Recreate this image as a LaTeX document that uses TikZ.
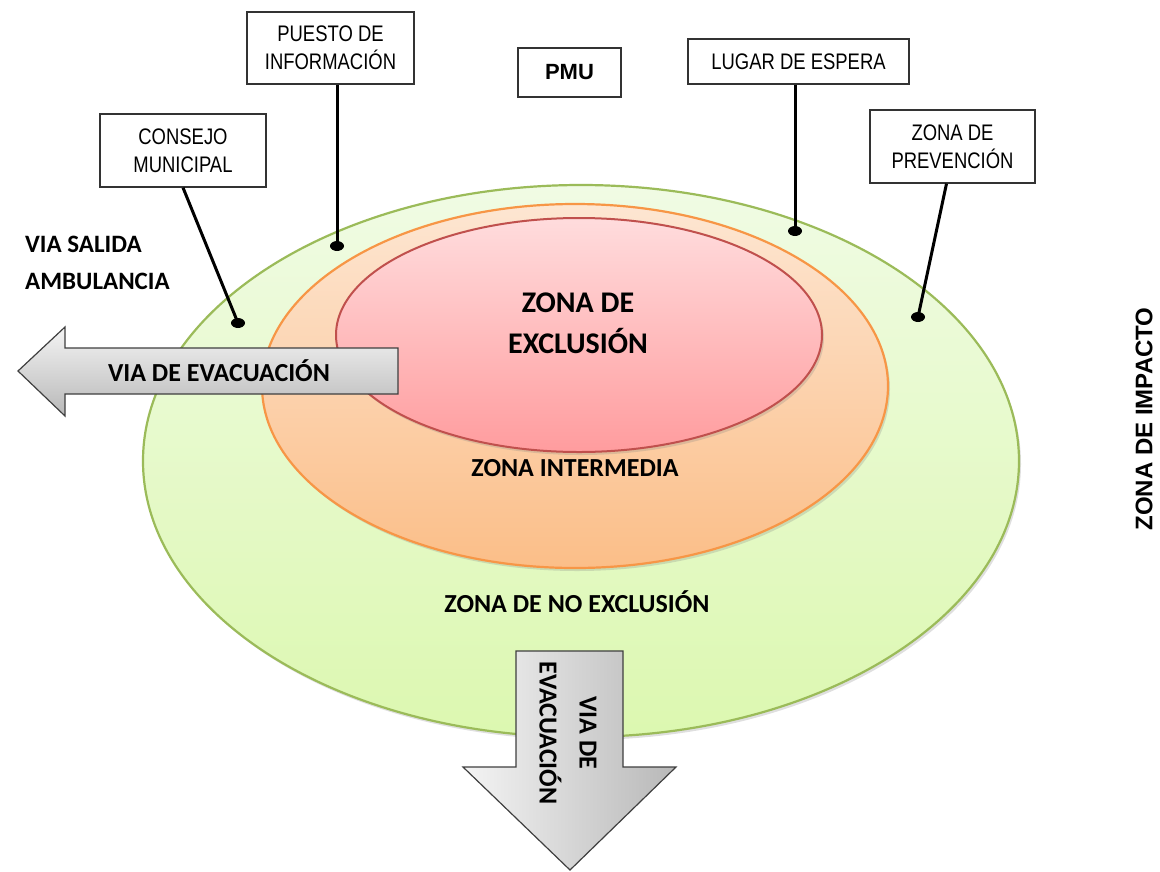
\documentclass[tikz,border=0pt]{standalone}
\usepackage{fontspec}
\usetikzlibrary{shapes.geometric,shadows}
\newfontfamily\carlito{Carlito}
\newfontfamily\arialf{Liberation Sans}
\newfontfamily\narrowf[FakeStretch=0.82]{Liberation Sans}
\definecolor{gborder}{HTML}{9BBB59}
\definecolor{gtop}{HTML}{F0FBE4}
\definecolor{gbot}{HTML}{DCF8B0}
\definecolor{oborder}{HTML}{F79646}
\definecolor{otop}{HTML}{FDE6D2}
\definecolor{obot}{HTML}{FBBE88}
\definecolor{rborder}{HTML}{C0504D}
\definecolor{rtop}{HTML}{FFDCDD}
\definecolor{rbot}{HTML}{FF9C9E}
\definecolor{arrtop}{HTML}{F4F4F4}
\definecolor{arrbot}{HTML}{B8B8B8}
\definecolor{arrborder}{HTML}{3F3F3F}
\tikzset{
  labelbox/.style={draw=black!80, line width=1.3pt, fill=white, inner sep=0pt, align=center,
     font=\narrowf\fontsize{22.5}{28}\selectfont},
  zonetext/.style={font=\carlito\bfseries\fontsize{26}{37}\selectfont, align=center, inner sep=0pt},
  leader/.style={line width=3pt, black},
  leaderdot/.style={ellipse, fill=black, minimum width=14pt, minimum height=10pt, inner sep=0pt},
  blockarrow/.style={draw=arrborder, line width=1.2pt, line join=miter},
  zoneshadow/.style={drop shadow={opacity=0.25, shadow xshift=2pt, shadow yshift=-3pt}}
}
\begin{document}
\begin{tikzpicture}[x=1pt,y=-1pt]
\useasboundingbox (0,0) rectangle (1160,871);
% zones
\path[zoneshadow, draw=gborder, line width=2.2pt, top color=gtop, bottom color=gbot]
  (581,461) ellipse [x radius=438pt, y radius=276pt];
\path[zoneshadow, draw=oborder, line width=2.2pt, top color=otop, bottom color=obot]
  (575,386) ellipse [x radius=313pt, y radius=182pt];
\path[zoneshadow, draw=rborder, line width=2pt, top color=rtop, bottom color=rbot]
  (579,335) ellipse [x radius=243pt, y radius=117pt];

\node[zonetext, font=\carlito\bfseries\fontsize{30}{41}\selectfont] (excl) at (578,323) {ZONA DE\\EXCLUSIÓN};
\node[zonetext] (inter) at (575,468) {ZONA INTERMEDIA};
\node[zonetext] (noexcl) at (577,602) {ZONA DE NO EXCLUSIÓN};

% left evacuation arrow
\path[blockarrow, top color=arrtop, bottom color=arrbot]
  (398,348) -- (65,348) -- (65,327) -- (18,371) -- (65,416) -- (65,394) -- (398,394) -- cycle;
\node[zonetext] (evacl) at (219,371) {VIA DE EVACUACIÓN};

% down evacuation arrow
\path[blockarrow, left color=arrtop, right color=arrbot]
  (516,651) -- (623,651) -- (623,767) -- (676,767) -- (570,870) -- (463,767) -- (516,767) -- cycle;
\node[zonetext, rotate=-90, font=\carlito\bfseries\fontsize{26}{40}\selectfont] (evacd) at (568,733) {VIA DE\\EVACUACIÓN};

% other texts
\node[zonetext, align=left, font=\carlito\bfseries\fontsize{25}{37}\selectfont, anchor=west] (amb) at (25,263) {VIA SALIDA\\AMBULANCIA};
\node[font=\arialf\bfseries\fontsize{24}{28}\selectfont, rotate=90, inner sep=0pt] (impacto) at (1144,419) {ZONA DE IMPACTO};

% label boxes
\node[labelbox, minimum width=166pt, minimum height=73pt] (consejo) at (183,150.5) {CONSEJO\\MUNICIPAL};
\node[labelbox, minimum width=167pt, minimum height=72pt] (puesto) at (330.5,48) {PUESTO DE\\INFORMACIÓN};
\node[labelbox, minimum width=103pt, minimum height=49pt, font=\arialf\bfseries\fontsize{22}{26}\selectfont] (pmu) at (569.5,72.5) {PMU};
\node[labelbox, minimum width=221pt, minimum height=45pt] (lugar) at (798.5,61.5) {LUGAR DE ESPERA};
\node[labelbox, minimum width=165pt, minimum height=73pt] (prev) at (952.5,146.5) {ZONA DE\\PREVENCIÓN};

% leader dots
\node[leaderdot] (dconsejo) at (238,323) {};
\node[leaderdot] (dpuesto) at (337,246) {};
\node[leaderdot] (dlugar) at (795,231) {};
\node[leaderdot] (dprev) at (918,317) {};

% leader lines
\draw[leader] (consejo.south) -- (dconsejo.center);
\draw[leader] (puesto.south -| dpuesto) -- (dpuesto.center);
\draw[leader] (lugar.south -| dlugar) -- (dlugar.center);
\coordinate (cprev) at ([xshift=-6pt]prev.south);
\draw[leader] (cprev) -- (dprev.center);
\end{tikzpicture}
\end{document}
